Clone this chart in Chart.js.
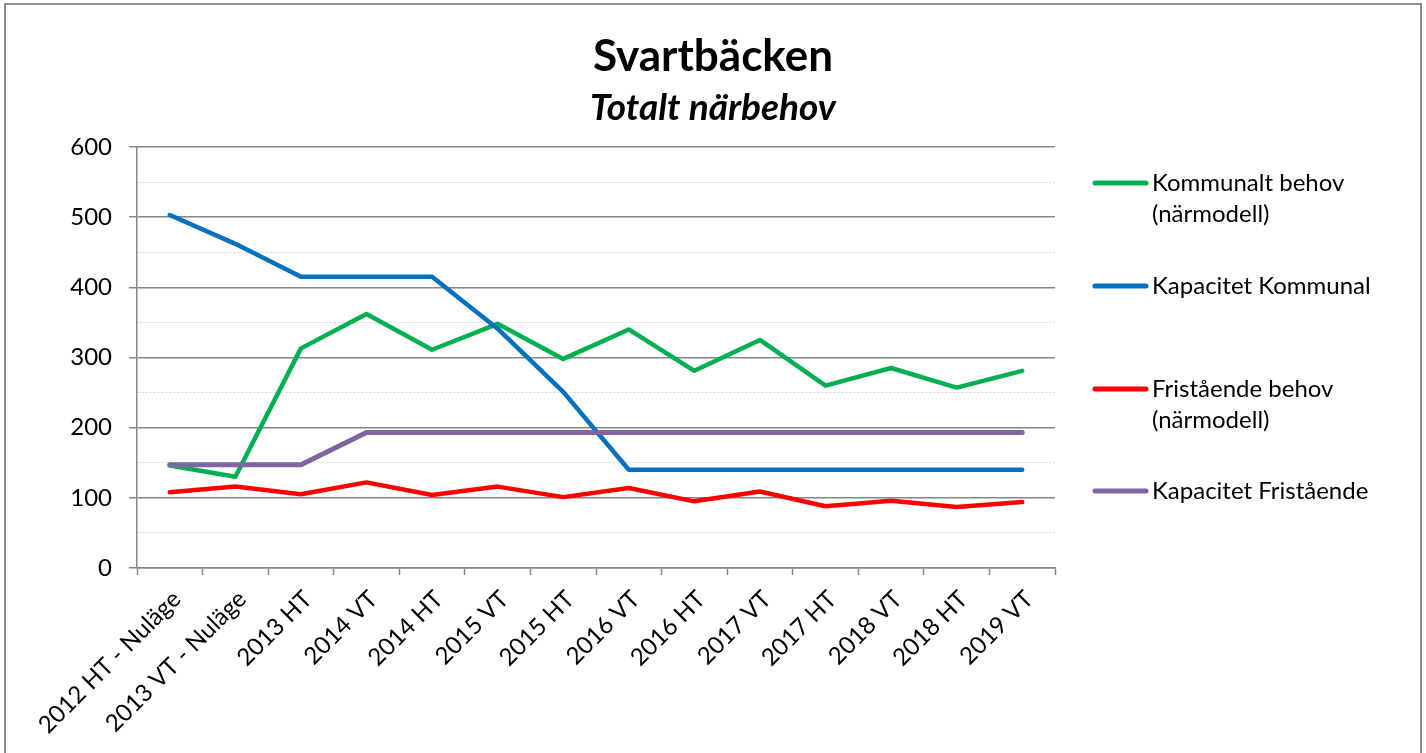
<!DOCTYPE html>
<html>
<head>
<meta charset="utf-8">
<script src="https://cdn.jsdelivr.net/npm/chart.js@4.4.1/dist/chart.umd.min.js"></script>
<style>
  body { margin: 0; background: #fff; }
  #wrap { position: relative; width: 1426px; height: 753px; overflow: hidden; }
  #frame { position: absolute; left: 4px; top: 3px; width: 1414px; height: 800px;
           border: 2px solid #8e8e8e; border-bottom: none; pointer-events: none; }
  canvas { position: absolute; left: 0; top: 0; }
</style>
</head>
<body>
<div id="wrap">
  <canvas id="myChart" width="1426" height="753"></canvas>
  <div id="frame"></div>
</div>
<script>
const TITLE = 'Svartbäcken';
const SUBTITLE = 'Totalt närbehov';
const CATEGORIES = ['2012 HT - Nuläge', '2013 VT - Nuläge', '2013 HT', '2014 VT', '2014 HT', '2015 VT', '2015 HT',
  '2016 VT', '2016 HT', '2017 VT', '2017 HT', '2018 VT', '2018 HT', '2019 VT'];
const KOMMUNALT_BEHOV = [146, 130, 313, 362, 311, 348, 298, 340, 281, 325, 260, 285, 257, 281];
const KAPACITET_KOMMUNAL = [503, 462, 415, 415, 415, 341, 251, 140, 140, 140, 140, 140, 140, 140];
const FRISTAENDE_BEHOV = [108, 116, 105, 122, 104, 116, 101, 114, 95, 109, 88, 96, 87, 94];
const KAPACITET_FRISTAENDE = [147, 147, 147, 193, 193, 193, 193, 193, 193, 193, 193, 193, 193, 193];
const LEGEND_LINES = [
  ['Kommunalt behov', '(närmodell)'],
  ['Kapacitet Kommunal'],
  ['Fristående behov', '(närmodell)'],
  ['Kapacitet Fristående'],
];
const Y_TICKS = [0, 100, 200, 300, 400, 500, 600];

const FONT = 'Lato, "Open Sans", sans-serif';
const GRID_GREY = '#868686';

function makeSeries(idx, data, color, order, width) {
  return {
    label: LEGEND_LINES[idx].join(' '),
    data: data,
    borderColor: color,
    backgroundColor: color,
    borderWidth: width,
    pointRadius: 0,
    tension: 0,
    borderJoinStyle: 'round',
    borderCapStyle: 'round',
    order: order,
  };
}

// titles centred on the whole page, legend on the right with wrapped labels
const sideDecor = {
  id: 'sideDecor',
  afterDraw(chart) {
    const ctx = chart.ctx;
    const rowsY = [183, 286, 389, 491];
    ctx.save();
    ctx.fillStyle = '#000';
    ctx.textBaseline = 'middle';
    ctx.textAlign = 'center';
    ctx.font = 'bold 44px ' + FONT;
    ctx.fillText(TITLE, chart.width / 2, 57);
    ctx.font = 'italic bold 37px ' + FONT;
    ctx.fillText(SUBTITLE, chart.width / 2, 108);

    ctx.textAlign = 'left';
    ctx.font = '24px ' + FONT;
    chart.data.datasets.forEach((ds, i) => {
      const y = rowsY[i];
      ctx.strokeStyle = ds.borderColor;
      ctx.lineWidth = 5;
      ctx.lineCap = 'round';
      ctx.beginPath();
      ctx.moveTo(1095, y);
      ctx.lineTo(1146, y);
      ctx.stroke();
      LEGEND_LINES[i].forEach((line, j) => {
        ctx.fillText(line, 1152, y + j * 31);
      });
    });
    ctx.restore();
  }
};

const config = {
  type: 'line',
  data: {
    labels: CATEGORIES,
    datasets: [
      makeSeries(0, KOMMUNALT_BEHOV, '#00B050', 4, 4.5),
      makeSeries(1, KAPACITET_KOMMUNAL, '#0070C0', 3, 4.5),
      makeSeries(2, FRISTAENDE_BEHOV, '#FF0000', 2, 4.5),
      makeSeries(3, KAPACITET_FRISTAENDE, '#8064A2', 1, 5),
    ],
  },
  options: {
    responsive: false,
    animation: false,
    layout: { padding: { left: 0, right: 371, top: 147, bottom: 0 } },
    plugins: {
      legend: { display: false },
      tooltip: { enabled: false },
      title: { display: false },
    },
    scales: {
      x: {
        offset: true,
        grid: {
          offset: true,
          drawOnChartArea: false,
          tickLength: 7,
          tickColor: GRID_GREY,
          tickWidth: 1.5,
        },
        border: { color: GRID_GREY, width: 1.5 },
        ticks: {
          color: '#000',
          font: { family: FONT, size: 24 },
          minRotation: 45,
          maxRotation: 45,
          autoSkip: false,
          padding: 10,
          labelOffset: 7,
        },
        afterFit(scale) { scale.height = 185; },
      },
      y: {
        min: 0,
        max: 600,
        afterBuildTicks(scale) {
          const out = [];
          Y_TICKS.forEach((v, i) => {
            out.push({ value: v });
            if (i < Y_TICKS.length - 1) out.push({ value: v + 50 });
          });
          scale.ticks = out;
        },
        grid: {
          color: (c) => (c.tick && c.tick.value % 100 !== 0) ? '#d4d4d4' : GRID_GREY,
          lineWidth: (c) => (c.tick && c.tick.value % 100 !== 0) ? 1 : 1.5,
          tickLength: 8,
          tickColor: (c) => (c.tick && c.tick.value % 100 !== 0) ? 'rgba(0,0,0,0)' : GRID_GREY,
          tickWidth: 1.5,
        },
        border: {
          color: GRID_GREY,
          width: 1.5,
          dash: (c) => (c.tick && c.tick.value % 100 !== 0) ? [2, 2] : [],
        },
        ticks: {
          color: '#000',
          font: { family: FONT, size: 24 },
          padding: 17,
          callback: (v) => (v % 100 === 0 ? v : ''),
        },
        afterFit(scale) { scale.width = 137; },
      },
    },
  },
  plugins: [sideDecor],
};

const myChart = new Chart(document.querySelector('#myChart'), config);
</script>
</body>
</html>
